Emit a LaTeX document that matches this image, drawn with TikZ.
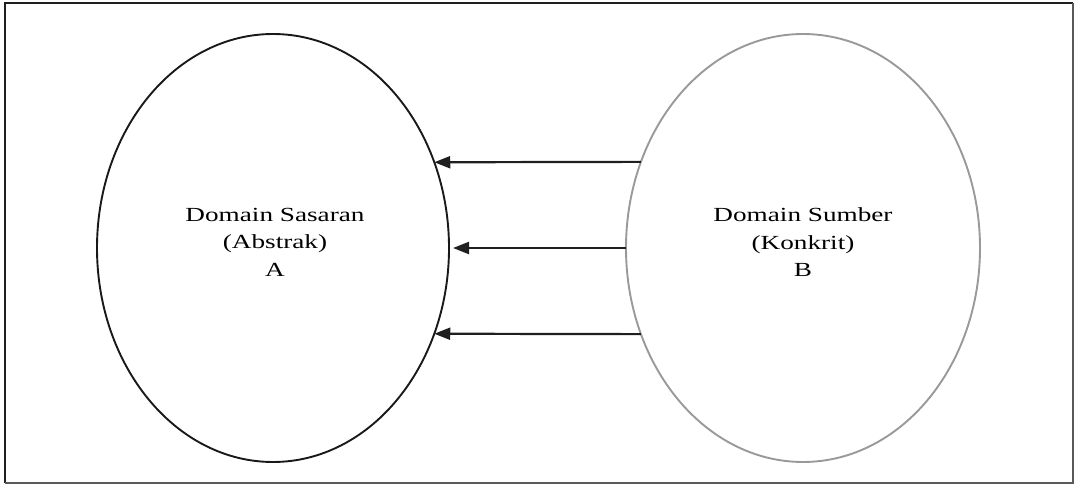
\documentclass[tikz,border=0pt]{standalone}
\usepackage{fontspec}
\setmainfont{Liberation Serif}
\usetikzlibrary{arrows.meta,shapes.geometric}
\newcommand{\widetxt}[1]{\scalebox{1.36}[1]{#1}}
\tikzset{
  domainoval/.style={ellipse,draw,line width=1.9pt,inner sep=0pt,outer sep=0pt,
    minimum height=428pt},
  domtext/.style={align=center,inner sep=0pt,yshift=5.7pt,
    font=\fontsize{20}{27.5}\selectfont},
  maps/.style={line width=2.2pt,draw=black!88,
    -{Triangle[length=16pt,width=12pt]}}
}
\begin{document}
\begin{tikzpicture}[x=1pt,y=-1pt]
      \useasboundingbox (0,0) rectangle (1074,484);
      \draw [line width=2.2pt,black!88] (5,483) -- (5,3) -- (1073,3);
      \draw [line width=1.8pt,black!65] (1073,3) -- (1073,483) -- (5,483);
      \node [domainoval,draw=black!90,minimum width=352pt] (A) at (273,248) {};
      \node [domainoval,draw=black!40,minimum width=354pt] (B) at (803,248) {};
      \node [domtext,xshift=2pt] (Atext) at (A)
        {\widetxt{Domain Sasaran}\\\widetxt{(Abstrak)}\\\widetxt{A}};
      \node [domtext] (Btext) at (B)
        {\widetxt{Domain Sumber}\\\widetxt{(Konkrit)}\\\widetxt{B}};
      \draw [maps] (B.152) -- (A.28);
      \draw [maps,shorten >=4pt] (B.180) -- (A.0);
      \draw [maps] (B.208) -- (A.-28);
    \end{tikzpicture}
\end{document}
